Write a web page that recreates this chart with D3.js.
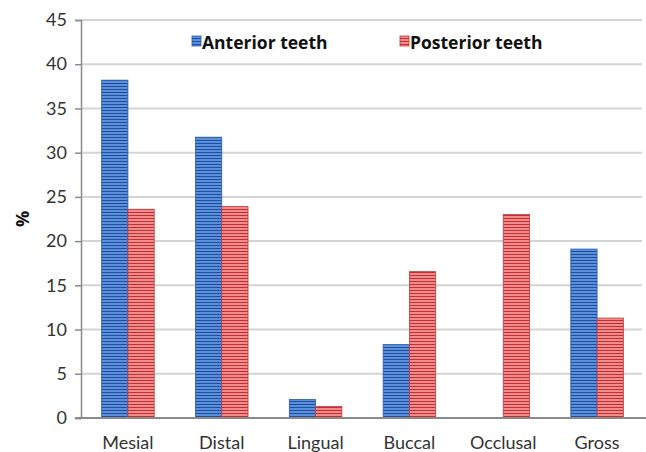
<!DOCTYPE html>
<html>
<head>
<meta charset="utf-8">
<script src="https://cdn.jsdelivr.net/npm/d3@7"></script>
<style>
  html, body { margin: 0; padding: 0; background: #fff; }
  svg { display: block; }
</style>
</head>
<body>
<svg id="chart" width="646" height="452"></svg>
<script>
// Distribution of caries location, anterior vs posterior teeth (%)
const categories = ["Mesial", "Distal", "Lingual", "Buccal", "Occlusal", "Gross"];
const anterior = [38.2, 31.75, 2.1, 8.3, 0, 19.1];
const posterior = [23.6, 23.9, 1.3, 16.55, 23.0, 11.3];
const seriesNames = ["Anterior teeth", "Posterior teeth"];
const yTicks = [0, 5, 10, 15, 20, 25, 30, 35, 40, 45];

const svg = d3.select("#chart");
const margin = { left: 81, right: 2, top: 20, bottom: 34 };
const W = 646, H = 452;

const x = d3.scaleBand().domain(categories).range([margin.left, W - margin.right]).paddingInner(0.44).paddingOuter(0.22);
const x1 = d3.scaleBand().domain(seriesNames).range([0, x.bandwidth()]);
const y = d3.scaleLinear().domain([0, 45]).range([H - margin.bottom, margin.top]);

// striped fills
const defs = svg.append("defs");
function stripes(id, light, dark) {
  const p = defs.append("pattern").attr("id", id).attr("patternUnits", "userSpaceOnUse")
    .attr("width", 6).attr("height", 3);
  p.append("rect").attr("width", 6).attr("height", 3).attr("fill", light);
  p.append("rect").attr("y", 2).attr("width", 6).attr("height", 1).attr("fill", dark);
}
stripes("stripeBlue", "#5a8fdc", "#1f4f9e");
stripes("stripeRed", "#f08c8c", "#c03035");
const fills = { "Anterior teeth": "url(#stripeBlue)", "Posterior teeth": "url(#stripeRed)" };
const edges = { "Anterior teeth": "#2a5cab", "Posterior teeth": "#c0393b" };

// gridlines
svg.append("g").selectAll("line").data(yTicks.filter(d => d > 0)).join("line")
  .attr("x1", margin.left).attr("x2", 642)
  .attr("y1", d => y(d)).attr("y2", d => y(d))
  .attr("stroke", "#d4d4d4").attr("stroke-width", 2);

// bars
const rows = categories.map((c, i) => ({ c, vals: [
  { s: seriesNames[0], v: anterior[i] },
  { s: seriesNames[1], v: posterior[i] }
]}));
svg.append("g").selectAll("g").data(rows).join("g")
  .attr("transform", d => `translate(${x(d.c)},0)`)
  .selectAll("rect").data(d => d.vals.filter(e => e.v > 0)).join("rect")
  .attr("x", d => x1(d.s)).attr("width", x1.bandwidth())
  .attr("y", d => y(d.v)).attr("height", d => y(0) - y(d.v))
  .attr("fill", d => fills[d.s]).attr("stroke", d => edges[d.s]).attr("stroke-width", 0.8);

// y axis
const yAxis = d3.axisLeft(y).tickValues(yTicks).tickSize(6).tickPadding(8);
const gy = svg.append("g").attr("transform", `translate(${margin.left},0)`).call(yAxis);
gy.select(".domain").attr("stroke", "#8a8a8a").attr("stroke-width", 1.5);
gy.selectAll(".tick line").attr("stroke", "#8a8a8a").attr("stroke-width", 1.5);
gy.selectAll("text").attr("font-family", "Lato, 'Open Sans', sans-serif").attr("font-size", 18).attr("fill", "#333");

// x axis
const xAxis = d3.axisBottom(x).tickSize(0).tickPadding(18);
const gx = svg.append("g").attr("transform", `translate(0,${y(0)})`).call(xAxis);
gx.select(".domain").attr("d", `M${margin.left - 6},0H${W}`).attr("stroke", "#8a8a8a").attr("stroke-width", 2);
gx.selectAll("text").attr("font-family", "Lato, 'Open Sans', sans-serif").attr("font-size", 18).attr("fill", "#333");

// y label
svg.append("text").attr("transform", `translate(22,${(y(20) + y(25)) / 2}) rotate(-90)`)
  .attr("text-anchor", "middle").attr("dominant-baseline", "central")
  .attr("font-family", "'Open Sans', sans-serif").attr("font-weight", "bold").attr("font-size", 18)
  .attr("fill", "#111").text("%");

// legend
const legendX = [192, 400];
const lg = svg.append("g").selectAll("g").data(seriesNames).join("g")
  .attr("transform", (d, i) => `translate(${legendX[i]},42)`);
lg.append("rect").attr("x", 0).attr("y", -6).attr("width", 9).attr("height", 10)
  .attr("fill", d => fills[d]).attr("stroke", d => edges[d]).attr("stroke-width", 0.8);
lg.append("text").attr("x", 10).attr("y", 0).attr("dominant-baseline", "central")
  .attr("font-family", "'Open Sans', sans-serif").attr("font-weight", "bold").attr("font-size", 17.5)
  .attr("fill", "#111").text(d => d);
</script>
</body>
</html>
